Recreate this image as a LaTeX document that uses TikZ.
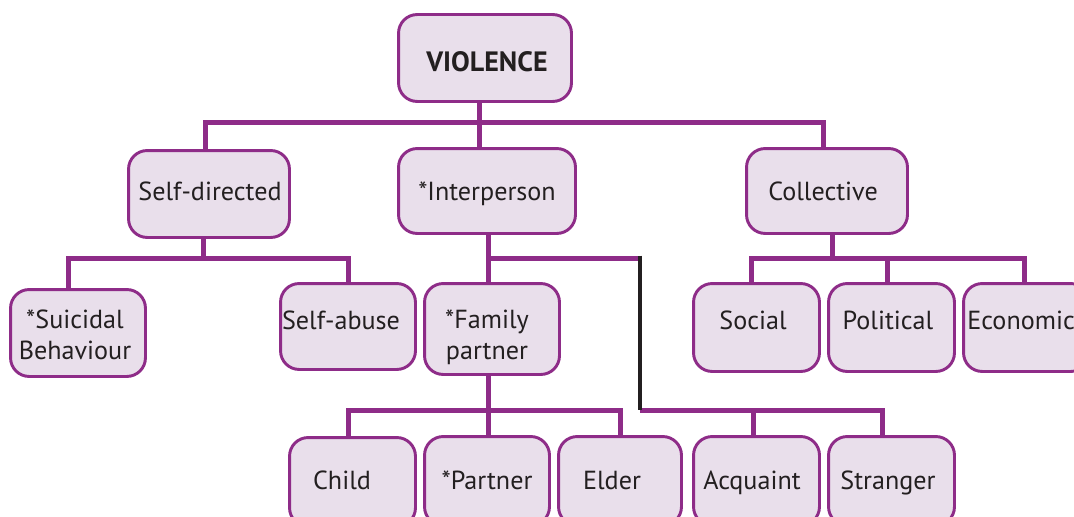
\documentclass[tikz,border=0pt]{standalone}
\usepackage{fontspec}
\setmainfont{PT Sans}
\definecolor{vpurple}{HTML}{8E2C88}
\definecolor{vfill}{HTML}{E9DFEB}
\definecolor{vtext}{HTML}{231F20}
\begin{document}
\begin{tikzpicture}[x=0.75pt,y=-0.75pt,
  conn/.style={draw=vpurple,line width=3.75pt,line join=miter},
  blk/.style={draw=vtext,line width=3.4pt},
  box/.style={draw=vpurple,fill=vfill,line width=2.2pt,rounded corners=14pt,inner sep=0pt},
  txt/.style={text=vtext,font=\fontsize{19.6}{23.5}\selectfont,inner sep=0pt,align=center}]
\useasboundingbox (0,0) rectangle (1074,517);
\clip (0,0) rectangle (1074,517);
% junction coordinates
\coordinate (tj) at (479,122);
\coordinate (tl) at (205,122);
\coordinate (tr) at (823,122);
\coordinate (sdj) at (203,258);
\coordinate (sl) at (68,258);
\coordinate (sr) at (348,258);
\coordinate (ipj) at (488,258);
\coordinate (bt) at (640,255.5);
\coordinate (btp) at (640,258);
\coordinate (bb) at (640,410);
\coordinate (aj) at (753,410);
\coordinate (sj) at (882,410);
\coordinate (fj) at (488,410);
\coordinate (fl) at (348,410);
\coordinate (fr) at (620,410);
\coordinate (cj) at (832,258);
\coordinate (cl) at (751,258);
\coordinate (cr) at (1024,258);
\coordinate (pj) at (887,258);

% nodes
\node[box,minimum width=170*0.75pt,minimum height=84*0.75pt] (v) at (485,58) {};
\node[box,minimum width=158*0.75pt,minimum height=84*0.75pt] (sd) at (209,194) {};
\node[box,minimum width=174*0.75pt,minimum height=82*0.75pt] (ip) at (487,191) {};
\node[box,minimum width=158*0.75pt,minimum height=82*0.75pt] (col) at (827,191) {};
\node[box,minimum width=132*0.75pt,minimum height=84*0.75pt] (sui) at (78,333) {};
\node[box,minimum width=132*0.75pt,minimum height=83*0.75pt] (sab) at (348,326.5) {};
\node[box,minimum width=132*0.75pt,minimum height=88*0.75pt] (fam) at (492,329) {};
\node[box,minimum width=123*0.75pt,minimum height=85*0.75pt] (soc) at (756.5,327.5) {};
\node[box,minimum width=123*0.75pt,minimum height=85*0.75pt] (pol) at (891.5,327.5) {};
\node[box,minimum width=123*0.75pt,minimum height=85*0.75pt] (eco) at (1026.5,327.5) {};
\node[box,minimum width=123*0.75pt,minimum height=86*0.75pt] (child) at (352.5,482) {};
\node[box,minimum width=122*0.75pt,minimum height=86*0.75pt] (part) at (487,481) {};
\node[box,minimum width=120*0.75pt,minimum height=86*0.75pt] (eld) at (620,481) {};
\node[box,minimum width=123*0.75pt,minimum height=86*0.75pt] (acq) at (756.5,481) {};
\node[box,minimum width=123*0.75pt,minimum height=86*0.75pt] (str) at (891.5,481) {};

% connectors
\draw[conn] (v.south -| tj) -- (tj);
\draw[conn] (sd.north -| tl) |- (tr) -- (tr |- col.north);
\draw[conn] (tj) -- (tj |- ip.north);
\draw[conn] (sd.south -| sdj) -- (sdj);
\draw[conn] (sui.north -| sl) |- (sr) -- (sr |- sab.north);
\draw[conn] (ip.south -| ipj) -- (fam.north -| ipj);
\draw[conn] (ipj) -- (btp);
\draw[conn] (bb) -- (sj) -- (sj |- str.north);
\draw[conn] (aj) -- (aj |- acq.north);
\draw[blk] (bt) -- (bb);
\draw[conn] (fam.south -| fj) -- (fj);
\draw[conn] (child.north -| fl) |- (fr) -- (fr |- eld.north);
\draw[conn] (fj) -- (fj |- part.north);
\draw[conn] (col.south -| cj) -- (cj);
\draw[conn] (soc.north -| cl) |- (cr) -- (cr |- eco.north);
\draw[conn] (pj) -- (pj |- pol.north);

% redraw boxes over connector ends
\foreach \n in {v,sd,ip,col,sui,sab,fam,soc,pol,eco,child,part,eld,acq,str}{
  \path[box] (\n.south west) rectangle (\n.north east);
}

% texts
\node[txt,anchor=base,font=\fontsize{21}{24}\selectfont\bfseries] (tv) at (487,72) {VIOLENCE};
\node[txt,anchor=base] (tsd) at (210,200) {Self-directed};
\node[txt,anchor=base] (tip) at (487,200) {*Interperson};
\node[txt,anchor=base] (tcol) at (823,200) {Collective};
\node[txt] (tsui) at (75,335) {*Suicidal\\Behaviour};
\node[txt,anchor=base] (tsab) at (341,329) {Self-abuse};
\node[txt] (tfam) at (487,337.5) {*Family\\partner};
\node[txt,anchor=base] (tsoc) at (753,329) {Social};
\node[txt,anchor=base] (tpol) at (888,329) {Political};
\node[txt,anchor=base west] (teco) at (967,329) {Economic};
\node[txt,anchor=base] (tchild) at (342,489) {Child};
\node[txt,anchor=base] (tpart) at (487,489) {*Partner};
\node[txt,anchor=base] (teld) at (612,489) {Elder};
\node[txt,anchor=base] (tacq) at (752,489) {Acquaint};
\node[txt,anchor=base] (tstr) at (888,489) {Stranger};
\end{tikzpicture}
\end{document}
